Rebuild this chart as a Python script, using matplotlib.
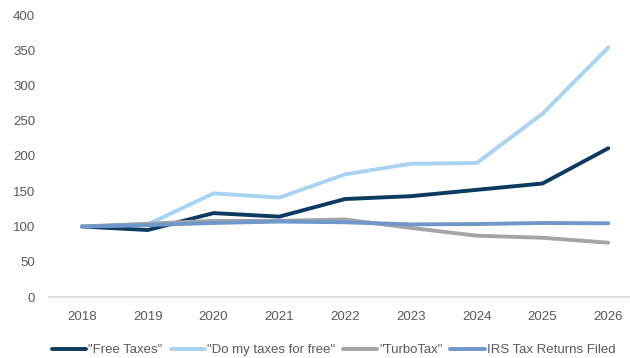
import matplotlib.pyplot as plt

plt.rcParams['font.family'] = ['Liberation Sans', 'DejaVu Sans']

years = ['2018', '2019', '2020', '2021', '2022', '2023', '2024', '2025', '2026']
free_taxes = [100, 95, 119, 114, 139, 143, 152, 161, 211]
do_my_taxes = [100, 103, 147, 141, 174, 189, 190, 260, 354]
turbotax = [100, 104, 108, 108, 110, 98, 87, 84, 77]
irs_returns = [100, 102, 105, 107, 106, 103, 103.5, 105, 104.5]

labels = ['"Free Taxes"', '"Do my taxes for free"', '"TurboTax"', 'IRS Tax Returns Filed']
colors = ['#0C3A60', '#A9D3F2', '#A5A5A5', '#7097C9']
series = [free_taxes, do_my_taxes, turbotax, irs_returns]

fig = plt.figure(figsize=(6.30, 3.58), dpi=100)
ax = fig.add_axes([49 / 630, 1 - 297 / 358, 1 - 49 / 630, 282 / 358])

x = range(len(years))
for vals, lab, col in zip(series, labels, colors):
    ax.plot(x, vals, color=col, lw=2.8, label=lab, solid_capstyle='round')

ax.set_xlim(-0.5, 8.33)
ax.set_ylim(0, 400)
ax.set_yticks(range(0, 401, 50))
ax.set_xticks(list(x))
ax.set_xticklabels(years)

for s in ['top', 'right', 'left']:
    ax.spines[s].set_visible(False)
ax.spines['bottom'].set_color('#D9D9D9')
ax.spines['bottom'].set_linewidth(1.2)
ax.tick_params(axis='both', length=0, labelsize=9.5, colors='#595959')
ax.tick_params(axis='y', pad=10)
ax.tick_params(axis='x', pad=10)

ax.legend(loc='upper center', bbox_to_anchor=(0.49, -0.125), ncol=4, frameon=False,
          fontsize=9.5, handlelength=2.6, handletextpad=0.15, columnspacing=0.6,
          labelcolor='#595959')

fig.savefig('out.png', dpi=100)
